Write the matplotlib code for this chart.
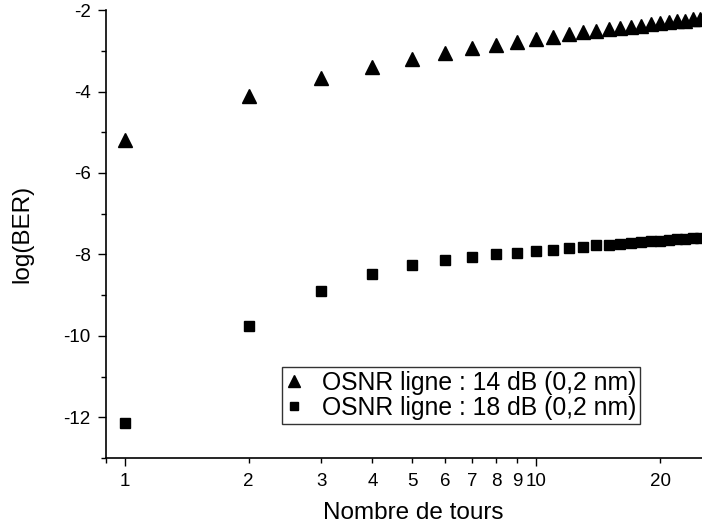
import numpy as np
import matplotlib
matplotlib.use("Agg")
import matplotlib.pyplot as plt
from matplotlib.ticker import FixedLocator, NullFormatter

plt.rcParams["font.family"] = ["Liberation Sans", "DejaVu Sans"]
plt.rcParams["axes.unicode_minus"] = False

# nombre de tours
tours = list(range(1, 26))

# log(BER), OSNR ligne 14 dB
ber_14 = [-5.18, -4.12, -3.66, -3.39, -3.19, -3.05, -2.94, -2.85, -2.78, -2.71,
          -2.65, -2.59, -2.55, -2.51, -2.47, -2.44, -2.41, -2.38, -2.35, -2.32,
          -2.30, -2.28, -2.26, -2.23, -2.21]

# log(BER), OSNR ligne 18 dB
ber_18 = [-12.15, -9.76, -8.90, -8.47, -8.27, -8.14, -8.06, -8.00, -7.97, -7.92,
          -7.88, -7.85, -7.81, -7.78, -7.76, -7.74, -7.72, -7.70, -7.68, -7.67,
          -7.65, -7.63, -7.62, -7.60, -7.59]

labels = ["OSNR ligne : 14 dB (0,2 nm)", "OSNR ligne : 18 dB (0,2 nm)"]

x_major = [1, 10]
x_labelled = [1, 2, 3, 4, 5, 6, 7, 8, 9, 10, 20]


def main():
    fig = plt.figure(figsize=(7.02, 5.29), dpi=100)
    ax = fig.add_axes([0.151, 0.134, 0.849, 0.847])

    ax.plot(tours, ber_14, linestyle="none", marker="^", color="black",
            markersize=10, label=labels[0], clip_on=False)
    ax.plot(tours, ber_18, linestyle="none", marker="s", color="black",
            markersize=7.5, label=labels[1], clip_on=False)

    ax.set_xscale("log")
    ax.set_xlim(0.9, 25.3)
    ax.set_ylim(-13, -2)

    minor = [0.9] + [v for v in range(2, 10)] + [20]
    ax.xaxis.set_minor_locator(FixedLocator(minor))
    ax.xaxis.set_minor_formatter(NullFormatter())
    ax.set_xticks(x_labelled, labels=[str(v) for v in x_labelled], minor=False)
    ax.tick_params(which="major", direction="out", length=6, width=1,
                   labelsize=13.5, pad=5)
    ax.tick_params(which="minor", direction="out", length=3.5, width=1)
    # only 1 and 10 get the long ticks
    for tick, v in zip(ax.xaxis.get_major_ticks(), x_labelled):
        if v not in x_major:
            tick.tick1line.set_markersize(3.5)

    ax.set_yticks(np.arange(-12, -1, 2))
    ax.set_yticks(np.arange(-13, -2, 2), minor=True)

    for side in ["top", "right"]:
        ax.spines[side].set_visible(False)
    for side in ["left", "bottom"]:
        ax.spines[side].set_linewidth(1.2)

    ax.set_xlabel("Nombre de tours", fontsize=17.5)
    ax.set_ylabel("log(BER)", fontsize=17.5)
    ax.xaxis.set_label_coords(0.515, -0.097)
    ax.yaxis.set_label_coords(-0.122, 0.5)

    leg = ax.legend(loc="upper left", bbox_to_anchor=(0.295, 0.203),
                    borderaxespad=0, fontsize=17.8, frameon=True, fancybox=False,
                    edgecolor="black", handlelength=0.7, handletextpad=0.77,
                    borderpad=0.15, labelspacing=0.05, numpoints=1,
                    markerscale=0.85)
    leg.get_frame().set_linewidth(1.0)

    fig.savefig("out.png", dpi=100)


if __name__ == "__main__":
    main()
